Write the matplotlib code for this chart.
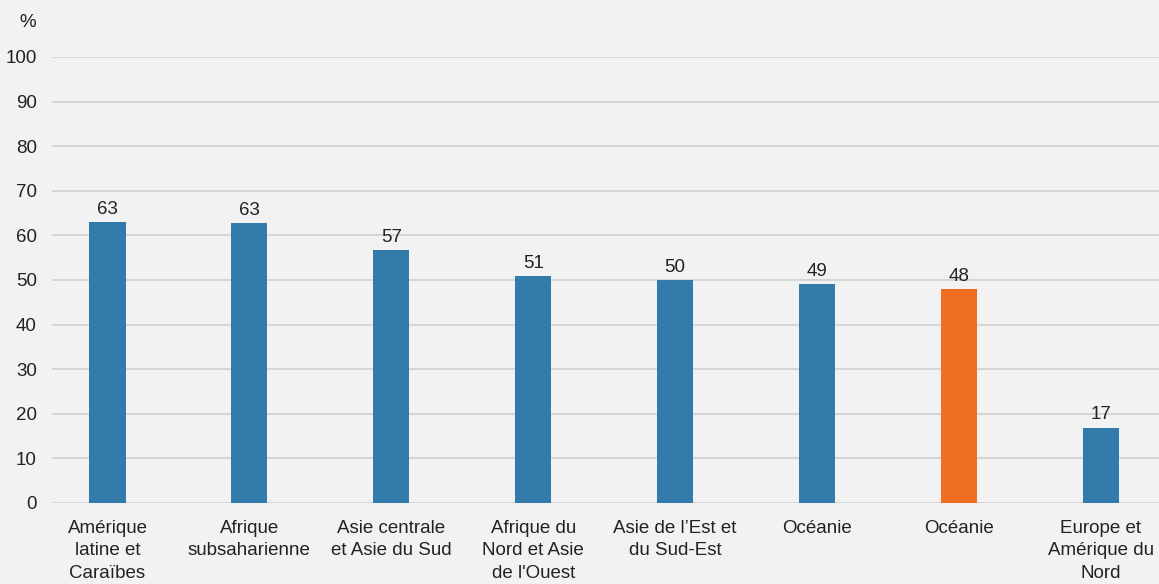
import matplotlib.pyplot as plt

# données
regions = [
    "Amérique\nlatine et\nCaraïbes",
    "Afrique\nsubsaharienne",
    "Asie centrale\net Asie du Sud",
    "Afrique du\nNord et Asie\nde l'Ouest",
    "Asie de l\u2019Est et\ndu Sud-Est",
    "Océanie",
    "Océanie",
    "Europe et\nAmérique du\nNord",
]
valeurs = [63.0, 62.8, 56.7, 50.9, 50.0, 49.1, 48.0, 16.9]
etiquettes = ["63", "63", "57", "51", "50", "49", "48", "17"]
surligne = [False, False, False, False, False, False, True, False]

bleu = "#337BAA"
orange = "#EE6E24"
fond = "#F2F2F2"

plt.rcParams["font.family"] = ["Liberation Sans", "DejaVu Sans"]

fig = plt.figure(figsize=(11.59, 5.84), dpi=100, facecolor=fond)
ax = fig.add_axes([0.045, 0.1387, 0.955, 0.7637], facecolor=fond)

couleurs = [orange if s else bleu for s in surligne]
pos = range(len(regions))
barres = ax.bar(pos, valeurs, width=0.255, color=couleurs, zorder=3)

for b, txt in zip(barres, etiquettes):
    ax.annotate(txt, (b.get_x() + b.get_width() / 2, b.get_height()),
                xytext=(0, 3), textcoords="offset points",
                ha="center", va="bottom", fontsize=13.5, color="#222222")

ax.set_ylim(0, 100)
ax.set_xlim(-0.39, 7.41)
ax.set_yticks(range(0, 101, 10))
ax.set_xticks(list(pos))
ax.set_xticklabels(regions, fontsize=13.5, color="#222222", linespacing=1.42)
ax.tick_params(axis="y", labelsize=13.5, labelcolor="#222222", length=0, pad=11)
ax.tick_params(axis="x", length=0, pad=12)
ax.grid(axis="y", color="#D0D0D0", linewidth=1.2, zorder=0)
for s in ax.spines.values():
    s.set_visible(False)

fig.text(0.0235, 0.962, "%", fontsize=13.5, color="#222222", ha="center", va="center")

fig.savefig("out.png", dpi=100, facecolor=fond)
